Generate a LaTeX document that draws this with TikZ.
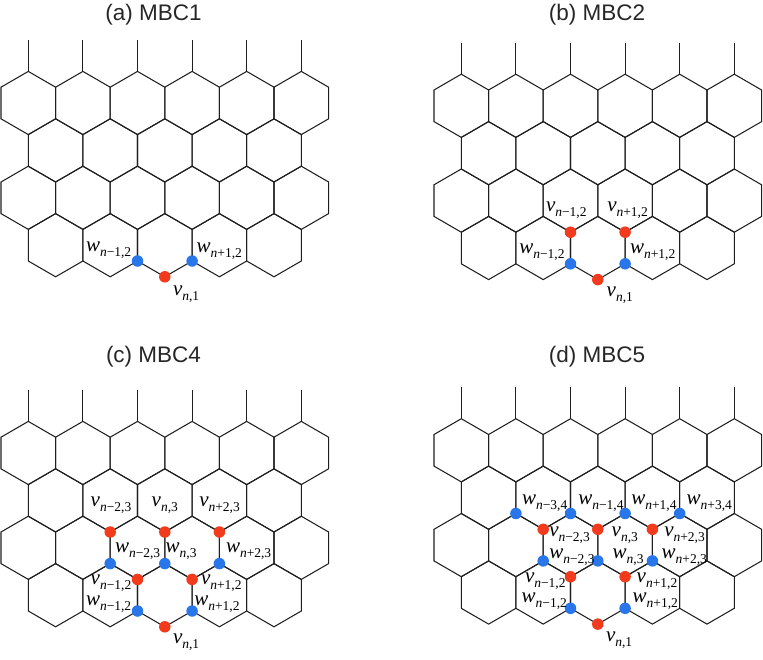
\documentclass[tikz,border=0pt]{standalone}
\usepackage{fontspec}
\setmainfont{Liberation Sans}
\newfontfamily\serifit[Ligatures=TeX]{Liberation Serif}
\definecolor{lineink}{HTML}{1E1E1E}
\definecolor{siteRed}{HTML}{F23A1C}
\definecolor{siteBlue}{HTML}{2876EA}
% Letter with a lowered subscript: #1 main letter, #2 subscript pieces
\newcommand{\sitelabel}[2]{{\serifit\fontsize{21}{21}\selectfont\textit{#1}\raisebox{-5pt}{\fontsize{13.5}{13.5}\selectfont #2}}}
\newcommand{\nn}{\textit{n}}
\newcommand{\mn}{−}
\newcommand{\pl}{+}
\newcommand{\lab}[4]{\node[sitetext] at (#1,#2) {\sitelabel{#3}{#4}};}
% One honeycomb panel: rows of 6, 5, 6, 5 cells plus the open stems on top
\newcommand{\honeycomb}{%
  \foreach \k in {0,...,5} {
    \draw[latt] (28.3+54.6*\k,71.4) -- ++(0,-31.6);
    \foreach \cy in {103,197.8} {
      \draw[latt] (28.3+54.6*\k,\cy-31.6) -- ++(27.3,15.8) -- ++(0,31.6) -- ++(-27.3,15.8) -- ++(-27.3,-15.8) -- ++(0,-31.6) -- cycle;
    }
  }
  \foreach \k in {0,...,4} {
    \foreach \cy in {150.4,245.2} {
      \draw[latt] (55.6+54.6*\k,\cy-31.6) -- ++(27.3,15.8) -- ++(0,31.6) -- ++(-27.3,15.8) -- ++(-27.3,-15.8) -- ++(0,-31.6) -- cycle;
    }
  }
}
\tikzset{
  latt/.style={draw=lineink,line width=1.05pt,line join=miter},
  reddot/.style={circle,fill=siteRed,inner sep=0pt,minimum size=11.5pt},
  bluedot/.style={circle,fill=siteBlue,inner sep=0pt,minimum size=11.5pt},
  sitetext/.style={anchor=base west,inner sep=0pt,outer sep=0pt,text=black},
  paneltitle/.style={anchor=base,inner sep=0pt,font=\fontsize{22.5}{22.5}\selectfont,text=black!85}
}
\begin{document}
\begin{tikzpicture}[x=1pt,y=-1pt]
\useasboundingbox (0,0) rectangle (763,659);

% (a) MBC1
\node[paneltitle] (ta) at (153.5,20.7) {(a) MBC1};
\begin{scope}
  \honeycomb
  \node[bluedot] (a1) at (137.5,261) {};
  \node[bluedot] (a2) at (192.1,261) {};
  \node[reddot] (a3) at (164.8,276.8) {};
\end{scope}
\lab{86}{251.7}{w}{\nn\mn{}1,2}
\lab{196.7}{252}{w}{\nn\pl{}1,2}
\lab{173}{295}{v}{\nn,1}

% (b) MBC2
\node[paneltitle] (tb) at (597,20.7) {(b) MBC2};
\begin{scope}[shift={(433,2.8)}]
  \honeycomb
  \node[reddot] (b1) at (137.5,229.4) {};
  \node[reddot] (b2) at (192.1,229.4) {};
  \node[bluedot] (b3) at (137.5,261) {};
  \node[bluedot] (b4) at (192.1,261) {};
  \node[reddot] (b5) at (164.8,276.8) {};
\end{scope}
\lab{546}{211.7}{v}{\nn\mn{}1,2}
\lab{607.3}{211.7}{v}{\nn\pl{}1,2}
\lab{519.3}{253}{w}{\nn\mn{}1,2}
\lab{630}{253}{w}{\nn\pl{}1,2}
\lab{606.7}{296.7}{v}{\nn,1}

% (c) MBC4
\node[paneltitle] (tc) at (153.5,362.7) {(c) MBC4};
\begin{scope}[shift={(0,350)}]
  \honeycomb
  \node[reddot] (c1) at (110.2,182) {};
  \node[reddot] (c2) at (164.8,182) {};
  \node[reddot] (c3) at (219.4,182) {};
  \node[bluedot] (c4) at (110.2,213.6) {};
  \node[bluedot] (c5) at (164.8,213.6) {};
  \node[bluedot] (c6) at (219.4,213.6) {};
  \node[reddot] (c7) at (137.5,229.4) {};
  \node[reddot] (c8) at (192.1,229.4) {};
  \node[bluedot] (c9) at (137.5,261) {};
  \node[bluedot] (c10) at (192.1,261) {};
  \node[reddot] (c11) at (164.8,276.8) {};
\end{scope}
\lab{90.7}{506}{v}{\nn\mn{}2,3}
\lab{151.7}{506}{v}{\nn,3}
\lab{199.3}{506}{v}{\nn\pl{}2,3}
\lab{115}{552.3}{w}{\nn\mn{}2,3}
\lab{165.7}{552.3}{w}{\nn,3}
\lab{226}{552.3}{w}{\nn\pl{}2,3}
\lab{90.7}{584}{v}{\nn\mn{}1,2}
\lab{201}{584}{v}{\nn\pl{}1,2}
\lab{86}{605.7}{w}{\nn\mn{}1,2}
\lab{194.3}{605.7}{w}{\nn\pl{}1,2}
\lab{173}{643}{v}{\nn,1}

% (d) MBC5
\node[paneltitle] (td) at (597,362.7) {(d) MBC5};
\begin{scope}[shift={(433,347.3)}]
  \honeycomb
  \node[bluedot] (d1) at (82.9,166.2) {};
  \node[bluedot] (d2) at (137.5,166.2) {};
  \node[bluedot] (d3) at (192.1,166.2) {};
  \node[bluedot] (d4) at (246.7,166.2) {};
  \node[reddot] (d5) at (110.2,182) {};
  \node[reddot] (d6) at (164.8,182) {};
  \node[reddot] (d7) at (219.4,182) {};
  \node[bluedot] (d8) at (110.2,213.6) {};
  \node[bluedot] (d9) at (164.8,213.6) {};
  \node[bluedot] (d10) at (219.4,213.6) {};
  \node[reddot] (d11) at (137.5,229.4) {};
  \node[reddot] (d12) at (192.1,229.4) {};
  \node[bluedot] (d13) at (137.5,261) {};
  \node[bluedot] (d14) at (192.1,261) {};
  \node[reddot] (d15) at (164.8,276.8) {};
\end{scope}
\lab{522}{504.3}{w}{\nn\mn{}3,4}
\lab{578.3}{504.3}{w}{\nn\mn{}1,4}
\lab{631.3}{504.3}{w}{\nn\pl{}1,4}
\lab{686.7}{504.3}{w}{\nn\pl{}3,4}
\lab{549.3}{536}{v}{\nn\mn{}2,3}
\lab{611.7}{536}{v}{\nn,3}
\lab{664.3}{536}{v}{\nn\pl{}2,3}
\lab{549.3}{558.3}{w}{\nn\mn{}2,3}
\lab{612.7}{558.3}{w}{\nn,3}
\lab{661.7}{558.3}{w}{\nn\pl{}2,3}
\lab{525}{582.3}{v}{\nn\mn{}1,2}
\lab{636.7}{582.3}{v}{\nn\pl{}1,2}
\lab{521.7}{602.7}{w}{\nn\mn{}1,2}
\lab{632.7}{602.7}{w}{\nn\pl{}1,2}
\lab{606}{641.7}{v}{\nn,1}
\end{tikzpicture}
\end{document}
